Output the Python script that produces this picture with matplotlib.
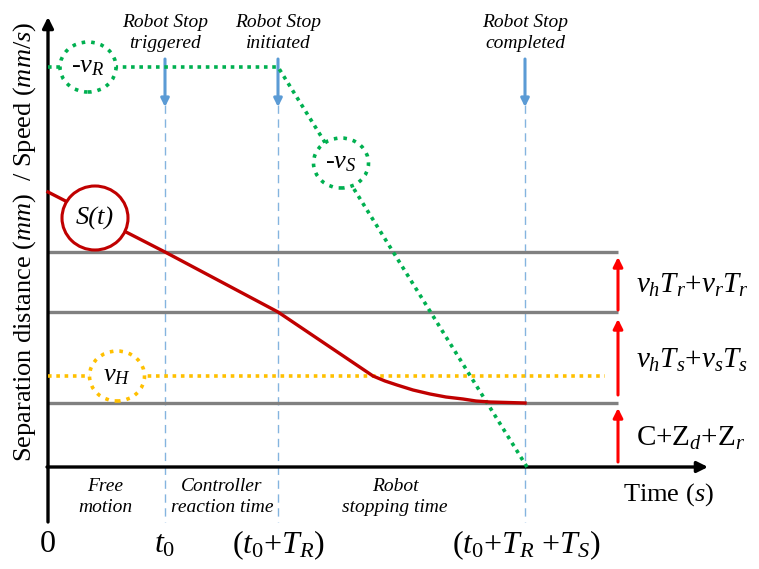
import matplotlib
matplotlib.use('Agg')
import matplotlib.pyplot as plt
from matplotlib.patches import Ellipse

plt.rcParams['font.family'] = 'serif'
plt.rcParams['font.serif'] = ['Liberation Serif']
plt.rcParams['mathtext.fontset'] = 'custom'
plt.rcParams['mathtext.rm'] = 'Liberation Serif'
plt.rcParams['mathtext.it'] = 'Liberation Serif:italic'

# diagram units: time to the right, distance upwards (both in pixel-like units)
event_t = [117, 230, 477]          # t0, t0+TR, t0+TR+TS
event_labels = ['Robot Stop\ntriggered', 'Robot Stop\ninitiated', 'Robot Stop\ncompleted']
tick_labels = ['0', r'$t_{\mathit{0}}$', r'$(t_{\mathit{0}}{+}T_R)$', r'$(t_{\mathit{0}}{+}T_R\ {+}T_S)$']
tick_t = [0, 117, 231, 478]
phase_t = [57, 174, 347]
phase_labels = ['Free\nmotion', 'Controller\nreaction time', 'Robot\nstopping time']

levels = [215, 155, 64]             # protective distance levels
level_labels = [r'$v_hT_r{+}v_rT_r$', r'$v_hT_s{+}v_sT_s$', r'$\mathrm{C}{+}\mathrm{Z}_d{+}\mathrm{Z}_r$']
label_d = [182, 107, 29]
arrow_span = [(157, 210), (72, 148), (5, 59)]

sep_t = [0, 117, 230, 325, 337, 349, 365, 382, 398, 415, 428, 442, 460, 477]
sep_d = [275, 215, 155, 91, 86, 82, 77, 73, 70, 68, 66, 65, 64.5, 64]

robot_t = [0, 230, 479]
robot_d = [400, 400, 0]

human_t = [0, 557]
human_d = [91, 91]

fig = plt.figure(figsize=(7.59, 5.69), dpi=100)
ax = fig.add_axes([0, 0, 1, 1])
ax.set_xlim(-48, 711)
ax.set_ylim(-102, 467)
ax.axis('off')

blue = '#5B9BD5'
green = '#00B050'
yellow = '#FFC000'
darkred = '#C00000'

# axes with arrows
ax.annotate('', xy=(0, 450), xytext=(0, -55),
            arrowprops=dict(arrowstyle='-|>', lw=2.4, color='black', mutation_scale=16, shrinkA=0, shrinkB=0))
ax.annotate('', xy=(660, 0), xytext=(-1, 0),
            arrowprops=dict(arrowstyle='-|>', lw=2.4, color='black', mutation_scale=16, shrinkA=0, shrinkB=0))

# event lines and arrows
for t, lab in zip(event_t, event_labels):
    ax.plot([t, t], [362, -55], color=blue, lw=1, ls=(0, (6, 4)), alpha=0.75)
    ax.annotate('', xy=(t, 360), xytext=(t, 408),
                arrowprops=dict(arrowstyle='-|>', lw=2.2, color=blue, mutation_scale=12, shrinkA=0, shrinkB=0))
    ax.text(t, 434, lab, ha='center', va='center', fontsize=14, style='italic', linespacing=1.3)

# levels
for d in levels:
    ax.plot([0, 570], [d, d], color='#808080', lw=2.4, solid_capstyle='butt', zorder=2)
for (a, b), lab, y in zip(arrow_span, level_labels, label_d):
    ax.annotate('', xy=(570, b), xytext=(570, a),
                arrowprops=dict(arrowstyle='-|>', lw=2.2, color='#FF0000', mutation_scale=14, shrinkA=0, shrinkB=0))
    ax.text(588, y, lab, ha='left', va='center', fontsize=21)

# speed / distance curves
ax.plot(human_t, human_d, color=yellow, lw=2.6, ls=(0, (1, 1.3)), zorder=3)
ax.plot(robot_t, robot_d, color=green, lw=2.6, ls=(0, (1, 1.3)), zorder=3)
ax.plot(sep_t, sep_d, color=darkred, lw=2.4, zorder=4)

# circled labels
circ = [((40, 400), 56, 50, green, ':', r'-$v_R$'),
        ((293, 304), 55, 50, green, ':', r'-$v_S$'),
        ((47, 249), 66, 64, darkred, '-', 'S(t)'),
        ((69, 91), 55, 50, yellow, ':', r'$v_H$')]
for c, w, h, col, ls, lab in circ:
    ax.add_patch(Ellipse(c, w, h, facecolor='white', edgecolor=col, lw=2.6 if ls == ':' else 2.2,
                         ls=ls, zorder=5))
    ax.text(c[0], c[1], lab, ha='center', va='center', fontsize=19, zorder=6,
            style='italic' if lab == 'S(t)' else 'normal')

# phase labels and ticks
for t, lab in zip(phase_t, phase_labels):
    ax.text(t, -30, lab, ha='center', va='center', fontsize=14, style='italic', linespacing=1.3)
for t, lab in zip(tick_t, tick_labels):
    ax.text(t, -78, lab, ha='center', va='center', fontsize=23)

ax.text(620, -28, r'Time ($s$)', ha='center', va='center', fontsize=19)
ax.text(-23, 225, r'Separation distance ($mm$)  / Speed ($mm/s$)', ha='center', va='center',
        fontsize=19, rotation=90)

fig.savefig('out.png', dpi=100)
